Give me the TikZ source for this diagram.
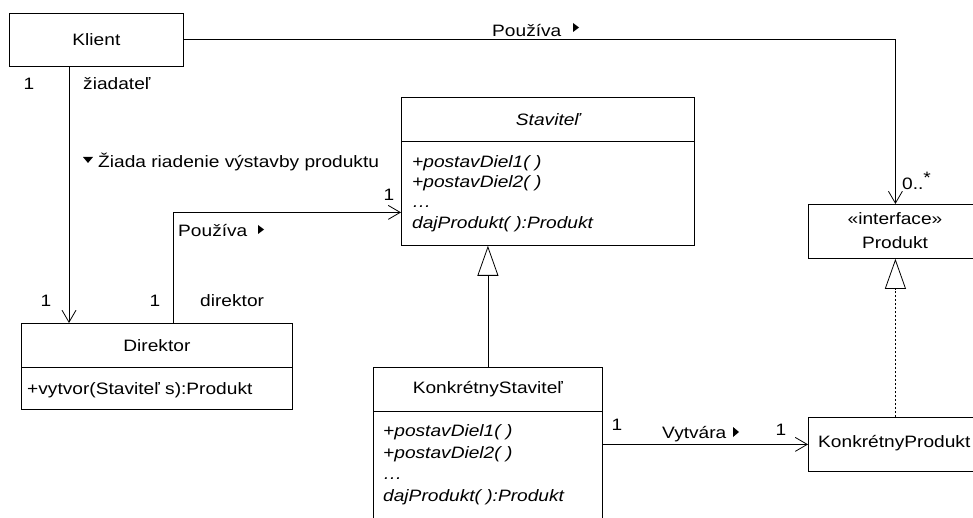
\documentclass[tikz,border=0pt]{standalone}
\usepackage{fontspec}
\setmainfont{Liberation Sans}[FakeStretch=1.16]
\usetikzlibrary{arrows.meta}

\tikzset{
  umlbox/.style={draw=black, line width=0.8pt, inner sep=0pt, anchor=north west},
  lbl/.style={inner sep=0pt, text height=12pt, text depth=0pt},
  op/.style={lbl, anchor=west, execute at begin node=\itshape},
  assoc/.style={draw=black, line width=0.8pt, -{Straight Barb[length=12pt,width=14pt,line width=0.8pt]}},
  gen/.style={draw=black, line width=0.8pt, -{Triangle[open,length=30pt,width=21pt,fill=white,line width=0.8pt]}},
  real/.style={gen, dash pattern=on 2pt off 2pt},
  dirmark/.style={fill=black}
}

\begin{document}
\begin{tikzpicture}[x=1pt, y=-1pt, font=\fontsize{16.5}{20}\selectfont]
\useasboundingbox (0,0) rectangle (973,518);
\clip (0,0) rectangle (973,518);

% class boxes
\node[umlbox, minimum width=174pt, minimum height=53pt] (klient) at (9,13) {Klient};

\node[umlbox, minimum width=271pt, minimum height=44pt] (dirhead) at (21,323) {Direktor};
\node[umlbox, minimum width=271pt, minimum height=42pt] (dirbody) at (21,367) {};

\node[umlbox, minimum width=293pt, minimum height=44pt] (stavhead) at (401,97) {\itshape Staviteľ};
\node[umlbox, minimum width=293pt, minimum height=104pt] (stavbody) at (401,141) {};

\node[umlbox, minimum width=229pt, minimum height=44pt] (kshead) at (373,367) {KonkrétnyStaviteľ};
\node[umlbox, minimum width=229pt, minimum height=120pt] (ksbody) at (373,411) {};

\node[umlbox, minimum width=174pt, minimum height=54pt] (produkt) at (808,204) {};
\node[lbl] (stereo) at (895,219) {«interface»};
\node[lbl] (prodname) at (895,243) {Produkt};

\node[umlbox, minimum width=174pt, minimum height=54pt] (kprod) at (808,417) {};
\node[lbl, anchor=west] (kprodname) at (818,441) {KonkrétnyProdukt};

% operations
\node[lbl, anchor=west] (dirop) at (27,388) {+vytvor(Staviteľ s):Produkt};

\node[op] (sop1) at (412,162) {+postavDiel1( )};
\node[op] (sop2) at (412,182) {+postavDiel2( )};
\node[op] (sop3) at (412,202) {…};
\node[op] (sop4) at (412,223) {dajProdukt( ):Produkt};

\node[op] (kop1) at (383,430) {+postavDiel1( )};
\node[op] (kop2) at (383,452) {+postavDiel2( )};
\node[op] (kop3) at (383,473) {…};
\node[op] (kop4) at (383,495) {dajProdukt( ):Produkt};

% associations
\draw[assoc] (klient.east) -| (produkt.north);
\draw[assoc] ([xshift=60pt]klient.south west) -- ([xshift=48pt]dirhead.north west);
\draw[assoc] ([xshift=152pt]dirhead.north west) |- ([yshift=-19pt]stavbody.west);
\draw[assoc] (ksbody.east |- kprod.west) -- (kprod.west);

% generalization and realization
\draw[gen] (kshead.north) -- (kshead.north |- stavbody.south);
\draw[real] (kprod.north) -- (produkt.south);

% association labels
\node[lbl, anchor=west] (uses1) at (492,31) {Používa};
\fill[dirmark] (573,23) -- (579,27.5) -- (573,32) -- cycle;
\node[lbl, anchor=west] (mult0) at (902,184) {0..\raisebox{6pt}{*}};

\node[lbl] (m1) at (29,84) {1};
\node[lbl, anchor=west] (role1) at (83,84) {žiadateľ};
\fill[dirmark] (83,157) -- (93,157) -- (88,163) -- cycle;
\node[lbl, anchor=west] (asks) at (98,162) {Žiada riadenie výstavby produktu};
\node[lbl] (m2) at (46,300) {1};

\node[lbl] (m3) at (155,300) {1};
\node[lbl, anchor=west] (role2) at (200,300) {direktor};
\node[lbl, anchor=west] (uses2) at (178,231) {Používa};
\fill[dirmark] (258,225) -- (264,229.5) -- (258,234) -- cycle;
\node[lbl] (m4) at (389,195) {1};

\node[lbl] (m5) at (617,424) {1};
\node[lbl, anchor=west] (creates) at (662,432) {Vytvára};
\fill[dirmark] (733,427) -- (739,432) -- (733,437) -- cycle;
\node[lbl] (m6) at (781,429) {1};
\end{tikzpicture}
\end{document}
